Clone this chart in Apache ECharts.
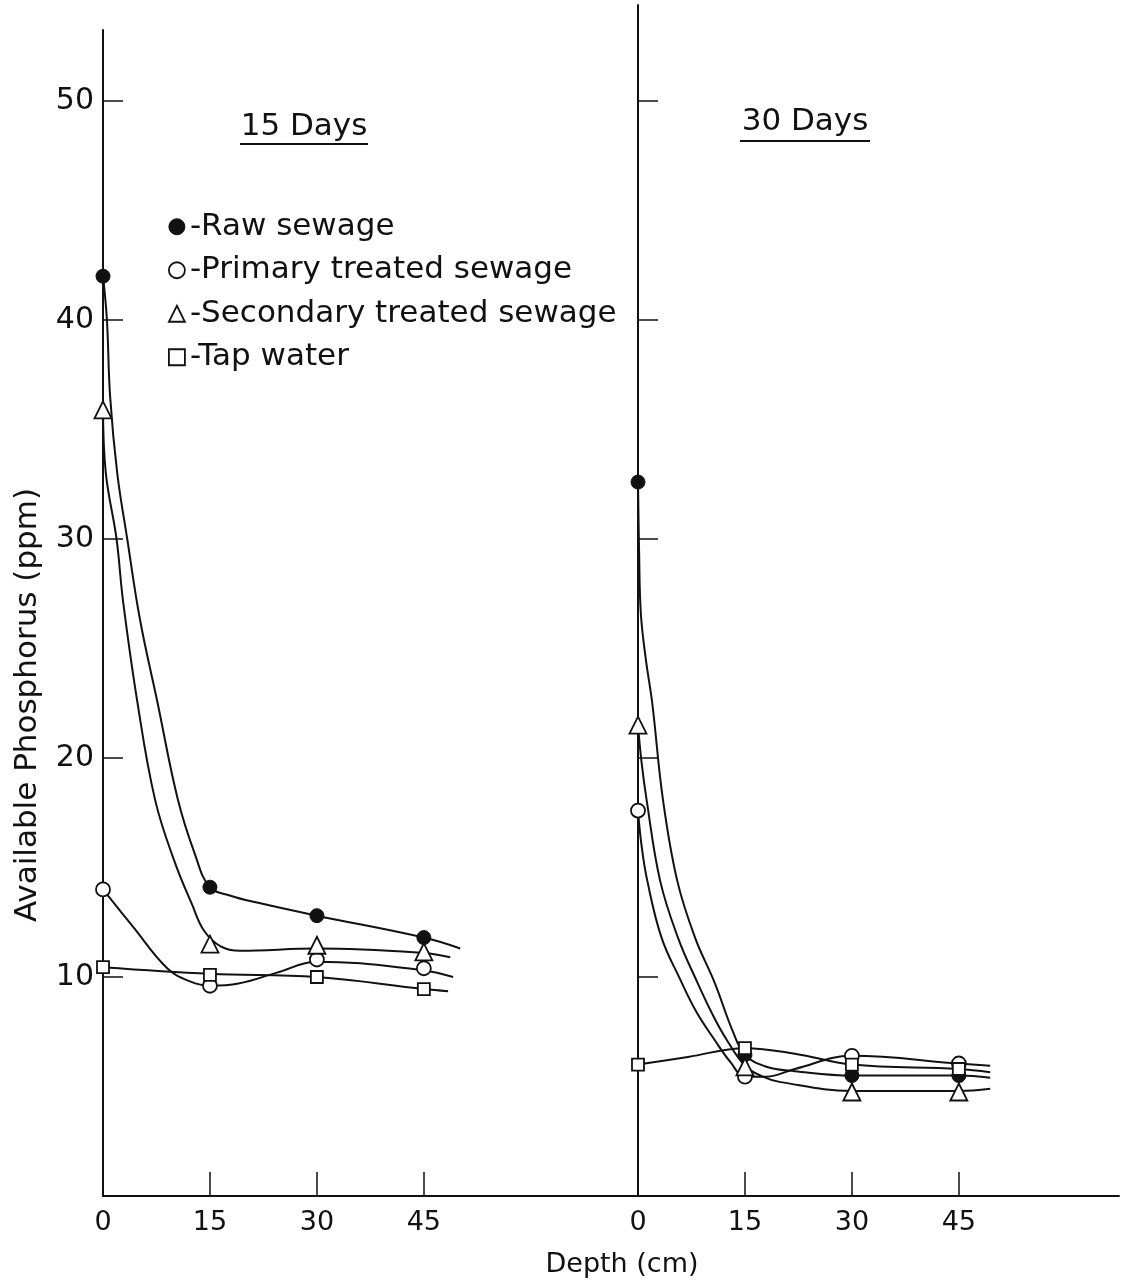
<!DOCTYPE html>
<html>
<head>
<meta charset="utf-8">
<title>Available Phosphorus vs Depth</title>
<script src="https://cdn.jsdelivr.net/npm/echarts@6/dist/echarts.min.js"></script>
<style>
  html, body { margin: 0; padding: 0; background: #fff; }
  #chart { width: 1123px; height: 1284px; }
</style>
</head>
<body>
<div id="chart"></div>
<script>
// Depth of sampling (cm) and the axis ticks
const depths = [0, 15, 30, 45];
const phosphorusTicks = [10, 20, 30, 40, 50];
const depthTickMarks = [15, 30, 45];

const seriesNames = ['Raw sewage', 'Primary treated sewage', 'Secondary treated sewage', 'Tap water'];

// Measured available phosphorus (ppm) after 15 days
const raw15 = [42.0, 14.1, 12.8, 11.8];
const primary15 = [14.0, 9.6, 10.8, 10.4];
const secondary15 = [35.9, 11.5, 11.45, 11.15];
const tap15 = [10.45, 10.1, 10.0, 9.45];

// Measured available phosphorus (ppm) after 30 days
const raw30 = [32.6, 6.45, 5.5, 5.5];
const primary30 = [17.6, 5.45, 6.4, 6.05];
const secondary30 = [21.5, 5.9, 4.75, 4.75];
const tap30 = [6.0, 6.75, 6.0, 5.8];

// Hand-fitted curves through the measurements, [depth, ppm]
const rawCurve15 = [[0, 42], [0.55, 40], [1.0, 36.5], [2.0, 33], [3.4, 30], [5.2, 26.3], [7.6, 22.6], [10.5, 18.1], [12.9, 15.6], [15, 14.1], [18, 13.7], [21.6, 13.4], [30, 12.8], [45, 11.8], [50.1, 11.3]];
const primaryCurve15 = [[0, 14.0], [4.2, 12.3], [9.0, 10.4], [12.2, 9.8], [15, 9.6], [19, 9.7], [24.4, 10.2], [30, 10.7], [45, 10.3], [49.1, 10.0]];
const secondaryCurve15 = [[0, 35.9], [0.4, 33], [1.9, 30], [2.8, 27.2], [4.8, 22.6], [7.3, 18.1], [10, 15.3], [12.5, 13.3], [14.2, 12.1], [16.5, 11.4], [19.2, 11.2], [30, 11.3], [45, 11.1], [48.7, 10.9]];
const tapCurve15 = [[0, 10.45], [15, 10.15], [30, 10.0], [45, 9.45], [48.4, 9.35]];

const rawCurve30 = [[0, 32.6], [0.15, 29.5], [0.4, 26.6], [1.1, 24.5], [2.0, 22.5], [3.5, 18.1], [5.5, 14.4], [8, 11.8], [10.8, 9.7], [13.2, 7.6], [15, 6.45], [18, 5.9], [22, 5.7], [30, 5.5], [45, 5.5], [49.4, 5.4]];
const primaryCurve30 = [[0, 17.6], [0.5, 16.0], [1.3, 14.4], [3.3, 11.8], [5.9, 9.9], [8.2, 8.4], [10.8, 7.1], [13, 6.1], [15, 5.45], [18, 5.45], [22, 5.8], [30, 6.4], [45, 6.05], [49.4, 5.95]];
const secondaryCurve30 = [[0, 21.5], [0.5, 19.8], [1.2, 18.1], [3.1, 14.4], [5.6, 11.8], [8.4, 9.7], [10.6, 8.2], [12.5, 7.1], [15, 5.95], [17.5, 5.45], [20, 5.2], [30, 4.8], [45, 4.8], [49.4, 4.9]];
const tapCurve30 = [[0, 6.0], [7, 6.35], [15, 6.75], [22, 6.5], [30, 6.0], [45, 5.8], [49.4, 5.65]];

const FONT = "'DejaVu Sans', 'Noto Sans', sans-serif";
const INK = '#111';

// Scale of the drawing: pixels per cm of depth and per ppm
const PX_PER_CM = 7.13;
const PX_PER_PPM = 21.9;

const markerStyles = [
  { symbol: 'circle', symbolSize: 14, itemStyle: { color: INK, borderColor: INK, borderWidth: 1, opacity: 1 } },
  { symbol: 'circle', symbolSize: 14, itemStyle: { color: '#fff', borderColor: INK, borderWidth: 1.8, opacity: 1 } },
  { symbol: 'triangle', symbolSize: 17, itemStyle: { color: '#fff', borderColor: INK, borderWidth: 1.8, opacity: 1 } },
  { symbol: 'rect', symbolSize: 12, itemStyle: { color: '#fff', borderColor: INK, borderWidth: 1.8, opacity: 1 } }
];

function curve(data, panel) {
  return {
    type: 'line', xAxisIndex: panel, yAxisIndex: panel,
    data: data, symbol: 'none', smooth: 0.4,
    lineStyle: { color: INK, width: 2 }, silent: true, z: 2
  };
}
function points(name, values, panel, styleIdx) {
  const s = markerStyles[styleIdx];
  return {
    type: 'scatter', name: name, xAxisIndex: panel, yAxisIndex: panel,
    data: depths.map((d, i) => [d, values[i]]),
    symbol: s.symbol, symbolSize: s.symbolSize, itemStyle: s.itemStyle, z: 5
  };
}

function xAxisFor(panel, widthPx) {
  return {
    gridIndex: panel, type: 'value', min: 0, max: widthPx / PX_PER_CM,
    axisLine: { show: true, onZero: false, lineStyle: { color: INK, width: 2 } },
    axisTick: { show: true, inside: true, length: 24, customValues: depthTickMarks, lineStyle: { color: INK, width: 1.5 } },
    axisLabel: { show: true, customValues: depths, margin: 13, fontFamily: FONT, fontSize: 27, color: INK },
    splitLine: { show: false }
  };
}
function yAxisFor(panel, heightPx, labels) {
  return {
    gridIndex: panel, type: 'value', min: 0, max: heightPx / PX_PER_PPM,
    axisLine: { show: true, onZero: false, lineStyle: { color: INK, width: 2 } },
    axisTick: { show: true, inside: true, length: 20, customValues: phosphorusTicks, lineStyle: { color: INK, width: 1.5 } },
    axisLabel: { show: labels, customValues: phosphorusTicks, margin: 9, fontFamily: FONT, fontSize: 30, color: INK },
    splitLine: { show: false }
  };
}

const chart = echarts.init(document.getElementById('chart'), null, { renderer: 'canvas' });

const option = {
  backgroundColor: '#fff',
  animation: false,
  grid: [
    { left: 103, top: 30, width: 535, height: 1166 },
    { left: 638, top: 5, width: 481, height: 1191 }
  ],
  xAxis: [xAxisFor(0, 535), xAxisFor(1, 481)],
  yAxis: [yAxisFor(0, 1166, true), yAxisFor(1, 1191, false)],
  legend: {
    orient: 'vertical', left: 163, top: 200, itemGap: 0,
    itemWidth: 16, itemHeight: 16, selectedMode: false,
    formatter: name => '-' + name,
    textStyle: { fontFamily: FONT, fontSize: 31, color: INK, lineHeight: 43.5 },
    data: seriesNames.map((n, i) => ({
      name: n, icon: markerStyles[i].symbol, itemStyle: markerStyles[i].itemStyle
    }))
  },
  graphic: [
    { type: 'text', x: 304, y: 127, style: { text: '15 Days', font: '31px ' + FONT, fill: INK, align: 'center', verticalAlign: 'middle' } },
    { type: 'line', shape: { x1: 240, y1: 144, x2: 368, y2: 144 }, style: { stroke: INK, lineWidth: 2 } },
    { type: 'text', x: 805, y: 122, style: { text: '30 Days', font: '31px ' + FONT, fill: INK, align: 'center', verticalAlign: 'middle' } },
    { type: 'line', shape: { x1: 740, y1: 141, x2: 870, y2: 141 }, style: { stroke: INK, lineWidth: 2 } },
    { type: 'text', x: 28, y: 705, rotation: Math.PI / 2, style: { text: 'Available Phosphorus (ppm)', font: '31px ' + FONT, fill: INK, align: 'center', verticalAlign: 'middle' } },
    { type: 'text', x: 622, y: 1265, style: { text: 'Depth (cm)', font: '27px ' + FONT, fill: INK, align: 'center', verticalAlign: 'middle' } }
  ],
  series: [
    curve(rawCurve15, 0), curve(primaryCurve15, 0), curve(secondaryCurve15, 0), curve(tapCurve15, 0),
    curve(rawCurve30, 1), curve(primaryCurve30, 1), curve(secondaryCurve30, 1), curve(tapCurve30, 1),
    points(seriesNames[0], raw15, 0, 0), points(seriesNames[1], primary15, 0, 1),
    points(seriesNames[2], secondary15, 0, 2), points(seriesNames[3], tap15, 0, 3),
    points(seriesNames[0], raw30, 1, 0), points(seriesNames[1], primary30, 1, 1),
    points(seriesNames[2], secondary30, 1, 2), points(seriesNames[3], tap30, 1, 3)
  ]
};
chart.setOption(option);
</script>
</body>
</html>
